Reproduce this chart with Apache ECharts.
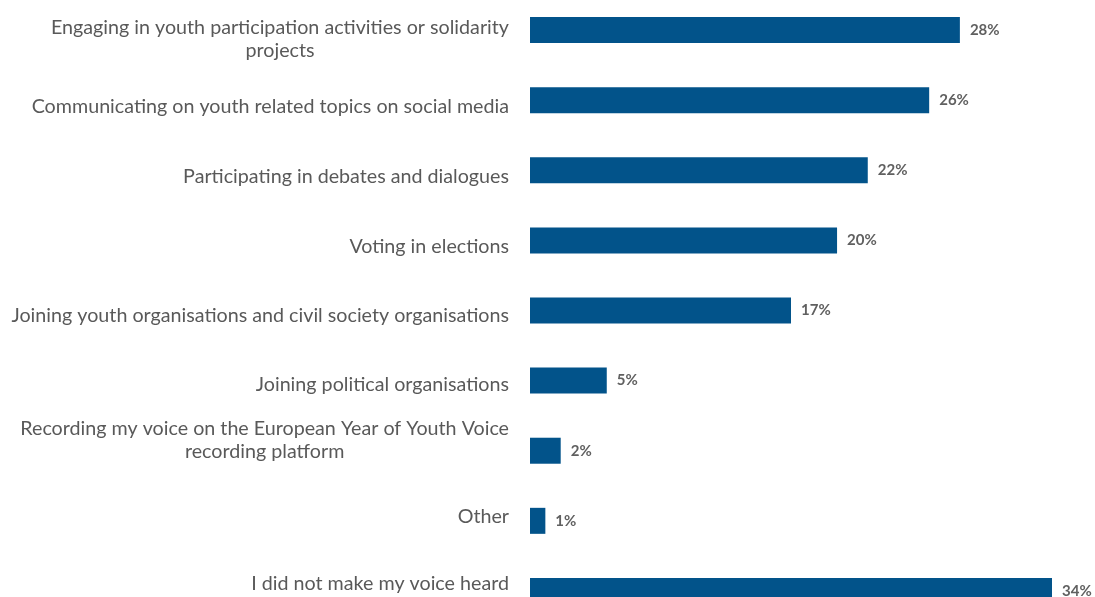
<!DOCTYPE html>
<html>
<head>
<meta charset="utf-8">
<script src="https://cdn.jsdelivr.net/npm/echarts@6/dist/echarts.min.js"></script>
<style>
html,body{margin:0;padding:0;background:#fff;overflow:hidden;width:1095px;height:597px;}
#chart{position:absolute;left:0;top:-5px;width:1095px;height:631px;}
</style>
</head>
<body>
<div id="chart"></div>
<script>
const categories = [
  "Engaging in youth participation activities or solidarity\nprojects",
  "Communicating on youth related topics on social media",
  "Participating in debates and dialogues",
  "Voting in elections",
  "Joining youth organisations and civil society organisations",
  "Joining political organisations",
  "Recording my voice on the European Year of Youth Voice\nrecording platform",
  "Other",
  "I did not make my voice heard"
];
const values = [28, 26, 22, 20, 17, 5, 2, 1, 34];

// vertical nudges of the category labels relative to their bars (style only)
const labelNudge = [8, 3, 3, 3, 2, 1, -9, -1, -4];

const baseText = {fontFamily: 'Lato', fontSize: 19.7, color: '#595959', lineHeight: 26, align: 'center'};
const rich = {c: Object.assign({}, baseText)};
labelNudge.forEach(function (d, i) {
  rich['s' + i] = Object.assign({}, baseText, {
    lineHeight: 26 + 2 * Math.abs(d),
    verticalAlign: d > 0 ? 'bottom' : 'top'
  });
});

const chart = echarts.init(document.getElementById('chart'), null, {renderer: 'canvas'});
chart.setOption({
  animation: false,
  backgroundColor: '#ffffff',
  grid: {left: 530, right: 43, top: 0, bottom: 0, containLabel: false},
  xAxis: {type: 'value', min: 0, max: 34, show: false},
  yAxis: {
    type: 'category',
    inverse: true,
    data: categories,
    axisLine: {show: false},
    axisTick: {show: false},
    axisLabel: {
      margin: 21,
      fontFamily: 'Lato',
      fontSize: 19.7,
      color: '#595959',
      lineHeight: 26,
      formatter: function (v, idx) {
        const lines = v.split('\n');
        const d = labelNudge[idx] || 0;
        const target = d > 0 ? 0 : lines.length - 1;
        return lines.map(function (l, k) {
          const st = (d !== 0 && k === target) ? ('s' + idx) : 'c';
          return '{' + st + '|' + l + '}';
        }).join('\n');
      },
      rich: rich
    }
  },
  series: [{
    type: 'bar',
    data: values,
    barWidth: 26,
    itemStyle: {color: '#02538A'},
    label: {
      show: true,
      position: 'right',
      distance: 10,
      formatter: '{c}%',
      fontFamily: 'Lato',
      fontWeight: 'bold',
      fontSize: 15,
      color: '#606060'
    }
  }]
});
</script>
</body>
</html>
